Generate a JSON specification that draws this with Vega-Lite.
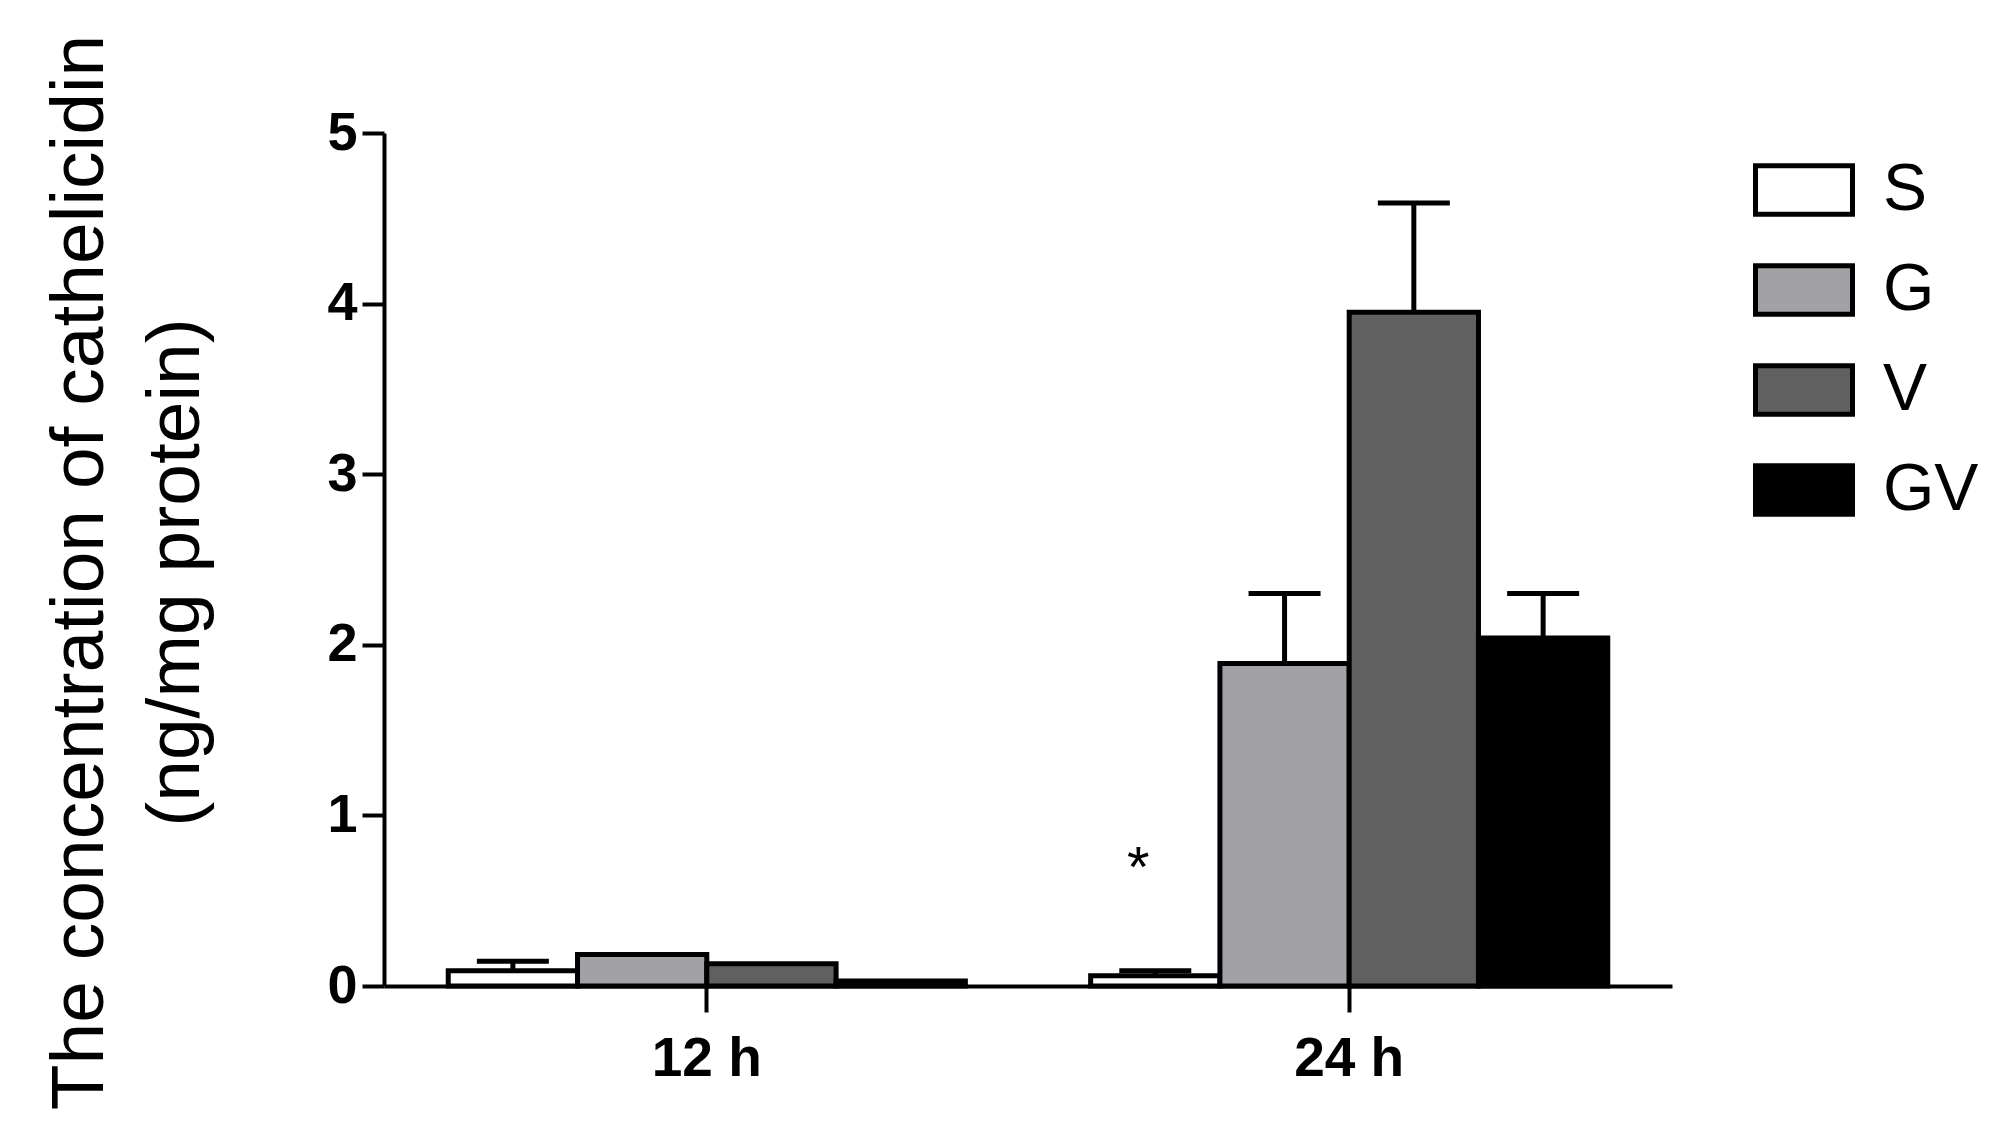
{
  "$schema": "https://vega.github.io/schema/vega-lite/v6.json",
  "autosize": "none",
  "width": 1288,
  "height": 853,
  "padding": {"left": 384, "top": 133, "right": 329, "bottom": 135},
  "background": "white",
  "config": {
    "view": {"stroke": null},
    "font": "Liberation Sans"
  },
  "data": {
    "values": [
      {"time": "12 h", "group": "S", "value": 0.09, "upper": 0.145},
      {"time": "12 h", "group": "G", "value": 0.185, "upper": null},
      {"time": "12 h", "group": "V", "value": 0.13, "upper": null},
      {"time": "12 h", "group": "GV", "value": 0.03, "upper": null},
      {"time": "24 h", "group": "S", "value": 0.06, "upper": 0.09},
      {"time": "24 h", "group": "G", "value": 1.89, "upper": 2.30},
      {"time": "24 h", "group": "V", "value": 3.95, "upper": 4.59},
      {"time": "24 h", "group": "GV", "value": 2.04, "upper": 2.30}
    ]
  },
  "encoding": {
    "x": {
      "field": "time",
      "type": "nominal",
      "scale": {"paddingInner": 0.195, "paddingOuter": 0.1},
      "axis": {
        "title": null,
        "labelAngle": 0,
        "labelFontSize": 55,
        "labelFontWeight": "bold",
        "labelColor": "black",
        "labelPadding": 20,
        "domainColor": "black",
        "domainWidth": 4,
        "tickColor": "black",
        "tickWidth": 4,
        "tickSize": 26
      }
    },
    "xOffset": {
      "field": "group",
      "type": "nominal",
      "sort": ["S", "G", "V", "GV"],
      "scale": {"paddingInner": 0, "paddingOuter": 0}
    }
  },
  "layer": [
    {
      "mark": {"type": "bar", "stroke": "black", "strokeWidth": 5, "opacity": 1},
      "encoding": {
        "y": {
          "field": "value",
          "type": "quantitative",
          "scale": {"domain": [0, 5], "nice": false},
          "axis": {
            "values": [0, 1, 2, 3, 4, 5],
            "format": "d",
            "grid": false,
            "labelFontSize": 54,
            "labelFontWeight": "bold",
            "labelColor": "black",
            "labelPadding": 5,
            "domainColor": "black",
            "domainWidth": 4,
            "tickColor": "black",
            "tickWidth": 4,
            "tickSize": 22,
            "title": ["The concentration of cathelicidin", "(ng/mg protein)"],
            "titleFontSize": 75,
            "titleFontWeight": "normal",
            "titleColor": "black",
            "titleAngle": -90,
            "titleAlign": "center",
            "titleBaseline": "middle",
            "titleLineHeight": 96,
            "titleX": -305,
            "titleY": 439
          }
        },
        "color": {
          "field": "group",
          "type": "nominal",
          "sort": ["S", "G", "V", "GV"],
          "scale": {
            "domain": ["S", "G", "V", "GV"],
            "range": ["#ffffff", "#a2a2a6", "#606060", "#000000"]
          },
          "legend": {
            "title": null,
            "orient": "none",
            "legendX": 1369,
            "legendY": 6,
            "padding": 0,
            "symbolType": "M-1,-0.5H1V0.5H-1Z",
            "symbolSize": 9409,
            "symbolStrokeColor": "black",
            "symbolStrokeWidth": 5,
            "symbolOpacity": 1,
            "labelFontSize": 66,
            "labelColor": "black",
            "labelOffset": 28,
            "rowPadding": 14
          }
        }
      }
    },
    {
      "transform": [{"filter": "isValid(datum.upper)"}],
      "mark": {"type": "rule", "color": "black", "strokeWidth": 5},
      "encoding": {
        "y": {"field": "value", "type": "quantitative"},
        "y2": {"field": "upper"}
      }
    },
    {
      "transform": [{"filter": "isValid(datum.upper)"}],
      "mark": {"type": "tick", "color": "black", "size": 72, "thickness": 5, "opacity": 1},
      "encoding": {
        "y": {"field": "upper", "type": "quantitative"}
      }
    },
    {
      "data": {"values": [{"time": "24 h", "group": "S", "level": 0.75, "mark": "*"}]},
      "mark": {"type": "text", "fontSize": 58, "color": "black", "baseline": "middle", "dx": -17, "dy": 12},
      "encoding": {
        "y": {"field": "level", "type": "quantitative"},
        "text": {"field": "mark"}
      }
    }
  ]
}
